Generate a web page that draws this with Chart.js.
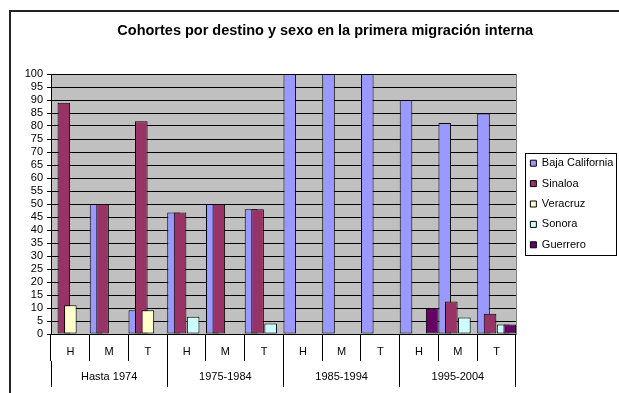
<!DOCTYPE html>
<html lang="es">
<head>
<meta charset="utf-8">
<title>Cohortes por destino y sexo en la primera migración interna</title>
<script src="https://cdn.jsdelivr.net/npm/chart.js@4/dist/chart.umd.min.js"></script>
<style>
  html, body { margin: 0; padding: 0; background: #fff; overflow: hidden; }
  #wrap { position: relative; width: 619px; height: 393px; }
  #frame { position: absolute; left: 9px; top: 10px; width: 700px; height: 500px;
           border: 2px solid #222; box-sizing: border-box; }
  #chart { position: absolute; left: 0; top: 0; }
</style>
</head>
<body>
<div id="wrap">
  <div id="frame"></div>
  <canvas id="chart" width="619" height="393"></canvas>
</div>
<script>
// Category labels: sex within each period, and the periods themselves
const sexLabels = ['H', 'M', 'T', 'H', 'M', 'T', 'H', 'M', 'T', 'H', 'M', 'T'];
const periodLabels = ['Hasta 1974', '1975-1984', '1985-1994', '1995-2004'];

// Share (%) of each destination of the first internal migration
const seriesNames = ['Baja California', 'Sinaloa', 'Veracruz', 'Sonora', 'Guerrero'];
const bajaCalifornia = [0, 50, 9.1, 46.7, 50, 48.0, 100, 100, 100, 90.0, 81.2, 84.8];
const sinaloa        = [88.9, 50, 81.8, 46.7, 50, 48.0, 0, 0, 0, 0, 12.5, 7.8];
const veracruz       = [11.1, 0, 9.1, 0, 0, 0, 0, 0, 0, 0, 0, 0];
const sonora         = [0, 0, 0, 6.6, 0, 4.0, 0, 0, 0, 0, 6.3, 3.7];
const guerrero       = [0, 0, 0, 0, 0, 0, 0, 0, 0, 10.0, 0, 3.7];

const seriesValues = [bajaCalifornia, sinaloa, veracruz, sonora, guerrero];
const seriesColors = ['#9999FF', '#993366', '#FFFFCC', '#CCFFFF', '#660066'];

const LEGEND_PAD = 9.4;
const LEGEND_SHIFT = 5;
const TITLE_SHIFT = 16;

Chart.defaults.font.family = "'Liberation Sans', Arial, sans-serif";
Chart.defaults.font.size = 11;
Chart.defaults.color = '#000';

// Grey plot area with a thin border
const plotBackground = {
  id: 'plotBackground',
  beforeDraw(chart) {
    const { ctx, chartArea: a } = chart;
    ctx.save();
    ctx.fillStyle = '#C0C0C0';
    ctx.fillRect(a.left, a.top, a.right - a.left, a.bottom - a.top);
    ctx.strokeStyle = '#808080';
    ctx.lineWidth = 1;
    ctx.strokeRect(Math.round(a.left) + 0.5, Math.round(a.top) + 0.5,
                   Math.round(a.right - a.left), Math.round(a.bottom - a.top));
    ctx.restore();
  }
};

// Overlapping columns: later series are painted over earlier ones
const forwardBars = {
  id: 'forwardBars',
  beforeDatasetsDraw(chart) {
    chart.getSortedVisibleDatasetMetas().forEach(meta => meta.controller.draw());
    return false;
  }
};

// Centre the title over the whole frame, nudge the legend and box it
const boxTweaks = {
  id: 'boxTweaks',
  afterLayout(chart) {
    const lg = chart.legend;
    lg.left += LEGEND_SHIFT;
    lg.right += LEGEND_SHIFT;
    const tb = chart.titleBlock;
    tb.left += TITLE_SHIFT;
    tb.right += TITLE_SHIFT;
  },
  afterDraw(chart) {
    const lg = chart.legend;
    const colH = lg.columnSizes[0].height;
    const y0 = (lg.top + LEGEND_PAD + lg.bottom - colH) / 2;
    const left = Math.round(lg.left + LEGEND_PAD - 5.5) + 0.5;
    const top = Math.round(y0 - 5) + 0.5;
    const right = chart.width - 2.5;
    const bottom = Math.round(y0 + colH - LEGEND_PAD + 5) + 0.5;
    const ctx = chart.ctx;
    ctx.save();
    ctx.strokeStyle = '#000';
    ctx.lineWidth = 1;
    ctx.strokeRect(left, top, right - left, bottom - top);
    ctx.restore();
  }
};

new Chart(document.getElementById('chart'), {
  type: 'bar',
  data: {
    labels: sexLabels,
    datasets: seriesNames.map((name, i) => ({
      label: name,
      data: seriesValues[i],
      backgroundColor: seriesColors[i],
      borderColor: '#000',
      borderWidth: 1,
      borderSkipped: false,
      categoryPercentage: 0.844,
      barPercentage: 1.927,
      xAxisID: 'x'
    }))
  },
  options: {
    responsive: false,
    animation: false,
    devicePixelRatio: 1,
    layout: { padding: { left: 0, right: 0.6, top: 0, bottom: 6 } },
    plugins: {
      title: {
        display: true,
        text: 'Cohortes por destino y sexo en la primera migración interna',
        color: '#000',
        font: { size: 14.5, weight: 'bold' },
        padding: { top: 22, bottom: 34.6 }
      },
      legend: {
        position: 'right',
        fullSize: false,
        labels: {
          boxWidth: 6,
          boxHeight: 6,
          padding: LEGEND_PAD,
          color: '#000',
          font: { size: 11 }
        }
      },
      tooltip: { enabled: false }
    },
    scales: {
      x: {
        type: 'category',
        position: 'bottom',
        offset: true,
        grid: { offset: true, drawOnChartArea: false, color: '#000', tickColor: '#000', tickLength: 27 },
        border: { color: '#000' },
        ticks: { color: '#000', padding: -16, maxRotation: 0, autoSkip: false, font: { size: 11 } },
        afterFit(scale) { scale.height = 27; }
      },
      x2: {
        type: 'category',
        position: 'bottom',
        labels: periodLabels,
        offset: true,
        grid: { offset: true, drawOnChartArea: false, color: '#000', tickColor: '#000', tickLength: 26 },
        border: { display: false },
        ticks: { color: '#000', padding: -17, maxRotation: 0, autoSkip: false, font: { size: 11 } },
        afterFit(scale) { scale.height = 26; }
      },
      y: {
        min: 0,
        max: 100,
        ticks: { stepSize: 5, autoSkip: false, color: '#000', padding: 4, font: { size: 11 } },
        grid: { color: '#000', tickColor: '#000', tickLength: 4 },
        border: { color: '#000' },
        afterFit(scale) { scale.width = 51; }
      }
    }
  },
  plugins: [plotBackground, forwardBars, boxTweaks]
});
</script>
</body>
</html>
